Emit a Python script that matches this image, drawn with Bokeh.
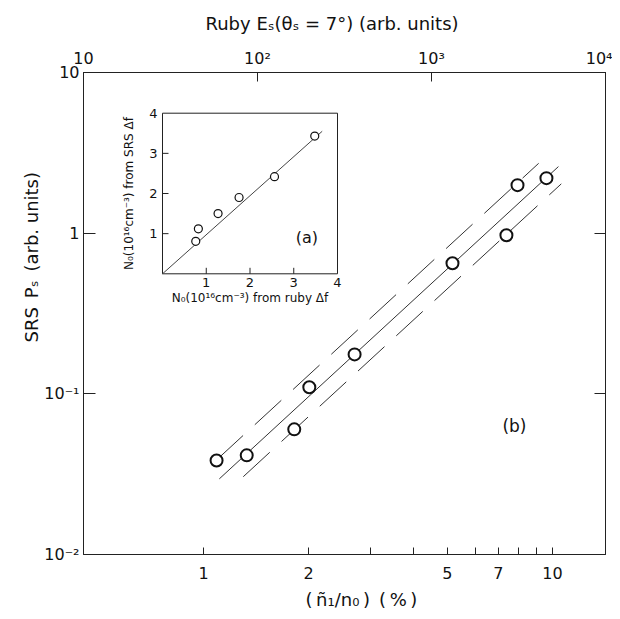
import math
from bokeh.plotting import figure
from bokeh.models import (LogAxis, Range1d, FixedTicker, LogScale, LinearScale, Title)
from bokeh.embed import file_html
from bokeh.resources import INLINE
from bokeh.core.properties import value

FONT = "DejaVu Sans"

# ---------------- data: main panel (b) ----------------
n_ratio = [1.09, 1.33, 1.82, 2.01, 2.71, 5.17, 7.38, 7.94, 9.61]          # (n1/n0) (%)
srs_power = [0.0385, 0.0414, 0.0601, 0.110, 0.176, 0.650, 0.97, 1.99, 2.20]  # SRS Ps

fit_coeff = 0.024          # Ps = c * (n1/n0)^2
band_upper = 1.36
band_lower = 1.33
center_x = [1.11, 10.4]
upper_x = [1.09, 9.13]
lower_x = [1.30, 10.6]

x_ticks = [1, 2, 3, 4, 5, 6, 7, 8, 9, 10]
x_tick_labels = {1: "1", 2: "2", 3: "", 4: "", 5: "5", 6: "", 7: "7", 8: "", 9: "", 10: "10"}
y_ticks = [0.01, 0.1, 1, 10]
y_tick_labels = {0.01: "10⁻²", 0.1: "10⁻¹", 1: "1", 10: "10"}
top_ticks = [10, 100, 1000, 10000]
top_tick_labels = {10: "10", 100: "10²", 1000: "10³", 10000: "10⁴"}

x_title = "(\u2009ñ₁/n₀\u2009)\u2002(\u2009%\u2009)"
y_title = "SRS\u2002Pₛ\u2002(arb. units)"
top_title = "Ruby Eₛ(θₛ = 7°) (arb. units)"

# ---------------- data: inset (a) ----------------
ruby_N0 = [0.76, 0.82, 1.27, 1.75, 2.56, 3.48]
srs_N0 = [0.81, 1.12, 1.50, 1.90, 2.42, 3.43]
inset_line_x = [0, 3.65]
inset_line_y = [0, 3.55]
inset_ticks = [1, 2, 3, 4]
inset_minor = [1, 2, 3]

# ---------------- layout (pixels) ----------------
W, H = 612, 619
FL, FR, FT, FB = 83, 605, 72, 554          # main frame edges
IL, IR, IT, IB = 162, 337, 112.7, 273.3    # inset box edges
IMAX = 4.0
ix_pp = IMAX / (IR - IL)
iy_pp = IMAX / (IB - IT)
ix_range = Range1d(-(IL - FL) * ix_pp, IMAX + (FR - IR) * ix_pp)
iy_range = Range1d(-(FB - IB) * iy_pp, IMAX + (IT - FT) * iy_pp)

p = figure(width=W, height=H, output_backend="svg", toolbar_location=None,
           x_axis_type="log", y_axis_type="log",
           x_range=Range1d(0.453, 14.19), y_range=Range1d(0.01, 10),
           min_border_left=FL, min_border_right=W - FR, min_border_top=FT,
           min_border_bottom=H - FB,
           background_fill_color="white", border_fill_color="white")
p.grid.visible = False
p.outline_line_color = "#222222"
p.outline_line_width = 1

def style_axis(ax, tick_in):
    ax.major_tick_in = tick_in
    ax.major_tick_out = 0
    ax.minor_tick_in = 0
    ax.minor_tick_out = 0
    ax.axis_line_color = "#222222"
    ax.major_tick_line_color = "#222222"
    ax.major_label_text_font = FONT
    ax.major_label_text_font_size = "16px"
    ax.major_label_text_color = "#111111"

xa = p.xaxis[0]
style_axis(xa, 7)
xa.ticker = FixedTicker(ticks=x_ticks)
xa.major_label_overrides = x_tick_labels
xa.major_label_standoff = 12

ya = p.yaxis[0]
style_axis(ya, 12)
ya.ticker = FixedTicker(ticks=y_ticks)
ya.major_label_overrides = y_tick_labels
ya.major_label_standoff = 4

p.extra_x_ranges = {"E": Range1d(10, 10000), "ix": ix_range}
p.extra_x_scales = {"E": LogScale(), "ix": LinearScale()}
p.extra_y_ranges = {"iy": iy_range}
p.extra_y_scales = {"iy": LinearScale()}

ta = LogAxis(x_range_name="E")
style_axis(ta, 9)
ta.ticker = FixedTicker(ticks=top_ticks)
ta.major_label_overrides = top_tick_labels
ta.major_label_standoff = 5
p.add_layout(ta, "above")

ra = LogAxis()
style_axis(ra, 11)
ra.ticker = FixedTicker(ticks=y_ticks)
ra.major_label_overrides = {t: "" for t in y_ticks}
ra.major_label_standoff = 0
p.add_layout(ra, "right")

# axis titles as Title objects (they sit off-centre in the original)
tstyle = dict(text_font=FONT, text_font_size="18px", text_font_style="normal",
              text_color="#111111", align="left")
p.add_layout(Title(text=x_title, offset=222, standoff=11, vertical_align="bottom",
                   **tstyle), "below")
p.add_layout(Title(text=y_title, offset=212, standoff=0, **tstyle), "left")
p.add_layout(Title(text=top_title, offset=122, standoff=19, vertical_align="top",
                   **tstyle), "above")

# ---------------- main panel lines and points ----------------
line_col = "#333333"
p.line(center_x, [fit_coeff * x ** 2 for x in center_x], line_color=line_col, line_width=1)
p.line(upper_x, [band_upper * fit_coeff * x ** 2 for x in upper_x], line_color=line_col,
       line_width=1, line_dash="36 16")
p.line(lower_x, [fit_coeff / band_lower * x ** 2 for x in lower_x], line_color=line_col,
       line_width=1, line_dash="36 16")
p.scatter(n_ratio, srs_power, marker="circle", size=12, line_color="#111111",
          line_width=2, fill_color="white")

p.text(x=[7.78], y=[0.0627], text=["(b)"], text_font=value(FONT), text_font_size="17px",
       text_align="center", text_baseline="middle", text_color="#111111")

# ---------------- inset (a) ----------------
R = dict(x_range_name="ix", y_range_name="iy")
p.quad(left=[0], right=[IMAX], bottom=[0], top=[IMAX], fill_color="white",
       line_color="#222222", line_width=1, **R)
tick_len = 6
p.segment(x0=inset_minor, y0=[0] * 3, x1=inset_minor, y1=[tick_len * iy_pp] * 3,
          line_color="#222222", line_width=1, **R)
p.segment(x0=[0] * 3, y0=inset_minor, x1=[tick_len * ix_pp] * 3, y1=inset_minor,
          line_color="#222222", line_width=1, **R)
p.line(inset_line_x, inset_line_y, line_color="#444444", line_width=1, **R)
p.scatter(ruby_N0, srs_N0, marker="circle", size=8, line_color="#111111",
          line_width=1.2, fill_color="white", **R)
p.text(x=inset_ticks, y=[0] * 4, text=[str(t) for t in inset_ticks], text_font=value(FONT),
       text_font_size="13px", text_align="center", text_baseline="top", y_offset=4,
       text_color="#111111", **R)
p.text(x=[0] * 4, y=inset_ticks, text=[str(t) for t in inset_ticks], text_font=value(FONT),
       text_font_size="13px", text_align="right", text_baseline="middle", x_offset=-5,
       text_color="#111111", **R)
p.text(x=[2], y=[0], text=["N₀(10¹⁶cm⁻³) from ruby Δf"], text_font=value(FONT),
       text_font_size="12px", text_align="center", text_baseline="top", y_offset=17,
       text_color="#111111", **R)
p.text(x=[0], y=[2], text=["N₀(10¹⁶cm⁻³) from SRS Δf"], text_font=value(FONT),
       text_font_size="12px", text_align="center", text_baseline="middle", x_offset=-34,
       angle=math.pi / 2, text_color="#111111", **R)
p.text(x=[3.3], y=[0.9], text=["(a)"], text_font=value(FONT), text_font_size="16px",
       text_align="center", text_baseline="middle", text_color="#111111", **R)

open("out.html", "w").write(file_html(p, INLINE))
